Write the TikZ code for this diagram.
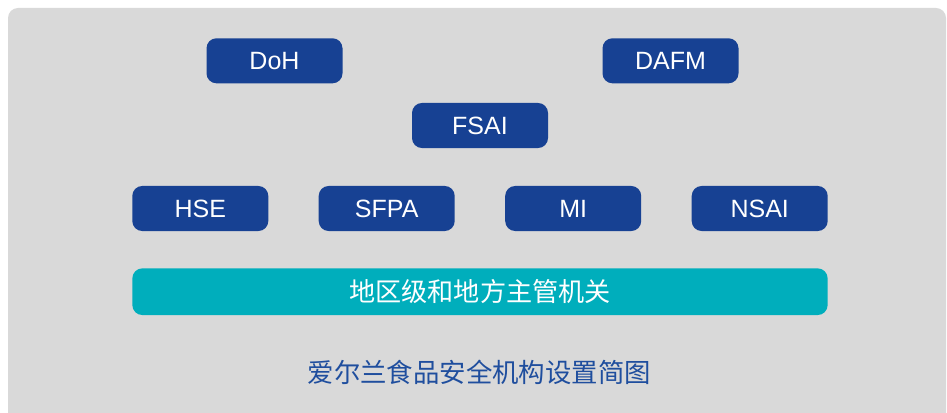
\documentclass[tikz,border=0pt]{standalone}
\usepackage{fontspec}
\setmainfont{Liberation Sans}
\newfontfamily\cjk{Noto Sans CJK SC}
\usetikzlibrary{positioning}
\definecolor{agency}{HTML}{174193}
\definecolor{local}{HTML}{00AEBC}
\definecolor{panel}{HTML}{D9D9D9}
\definecolor{caption}{HTML}{1F4E9E}
\tikzset{
    agencybox/.style = {rectangle, rounded corners=7.5pt, fill=agency, text=white,
        minimum width=102pt, minimum height=33.8pt, inner sep=0pt,
        font=\fontsize{18.75}{20}\selectfont},
    localbox/.style = {rectangle, rounded corners=7.5pt, fill=local, text=white,
        minimum width=521.5pt, minimum height=35pt, inner sep=0pt,
        font=\cjk\fontsize{19.6}{21}\selectfont},
    captiontext/.style = {text=caption, inner sep=0pt, font=\cjk\fontsize{19.8}{22}\selectfont}
}
\begin{document}
\begin{tikzpicture}[x=0.75pt,y=-0.75pt]
\clip (0,0) rectangle (947,413);
%
\fill[panel,rounded corners=7.5pt] (8,8) rectangle (946,440);
%
\node[agencybox] at (274.5,60.8) (doh) {DoH};
\node[agencybox] at (670.5,60.8) (dafm) {DAFM};
\node[agencybox] at (480,125.5) (fsai) {FSAI};
%
\node[agencybox] at (200.3,208.5) (hse) {HSE};
\node[agencybox] at (386.7,208.5) (sfpa) {SFPA};
\node[agencybox] at (573.2,208.5) (mi) {MI};
\node[agencybox] at (759.7,208.5) (nsai) {NSAI};
%
\node[localbox] at (480,291.7) (local) {地区级和地方主管机关};
%
\node[captiontext] at (479.2,372) (title) {爱尔兰食品安全机构设置简图};

\end{tikzpicture}
\end{document}
